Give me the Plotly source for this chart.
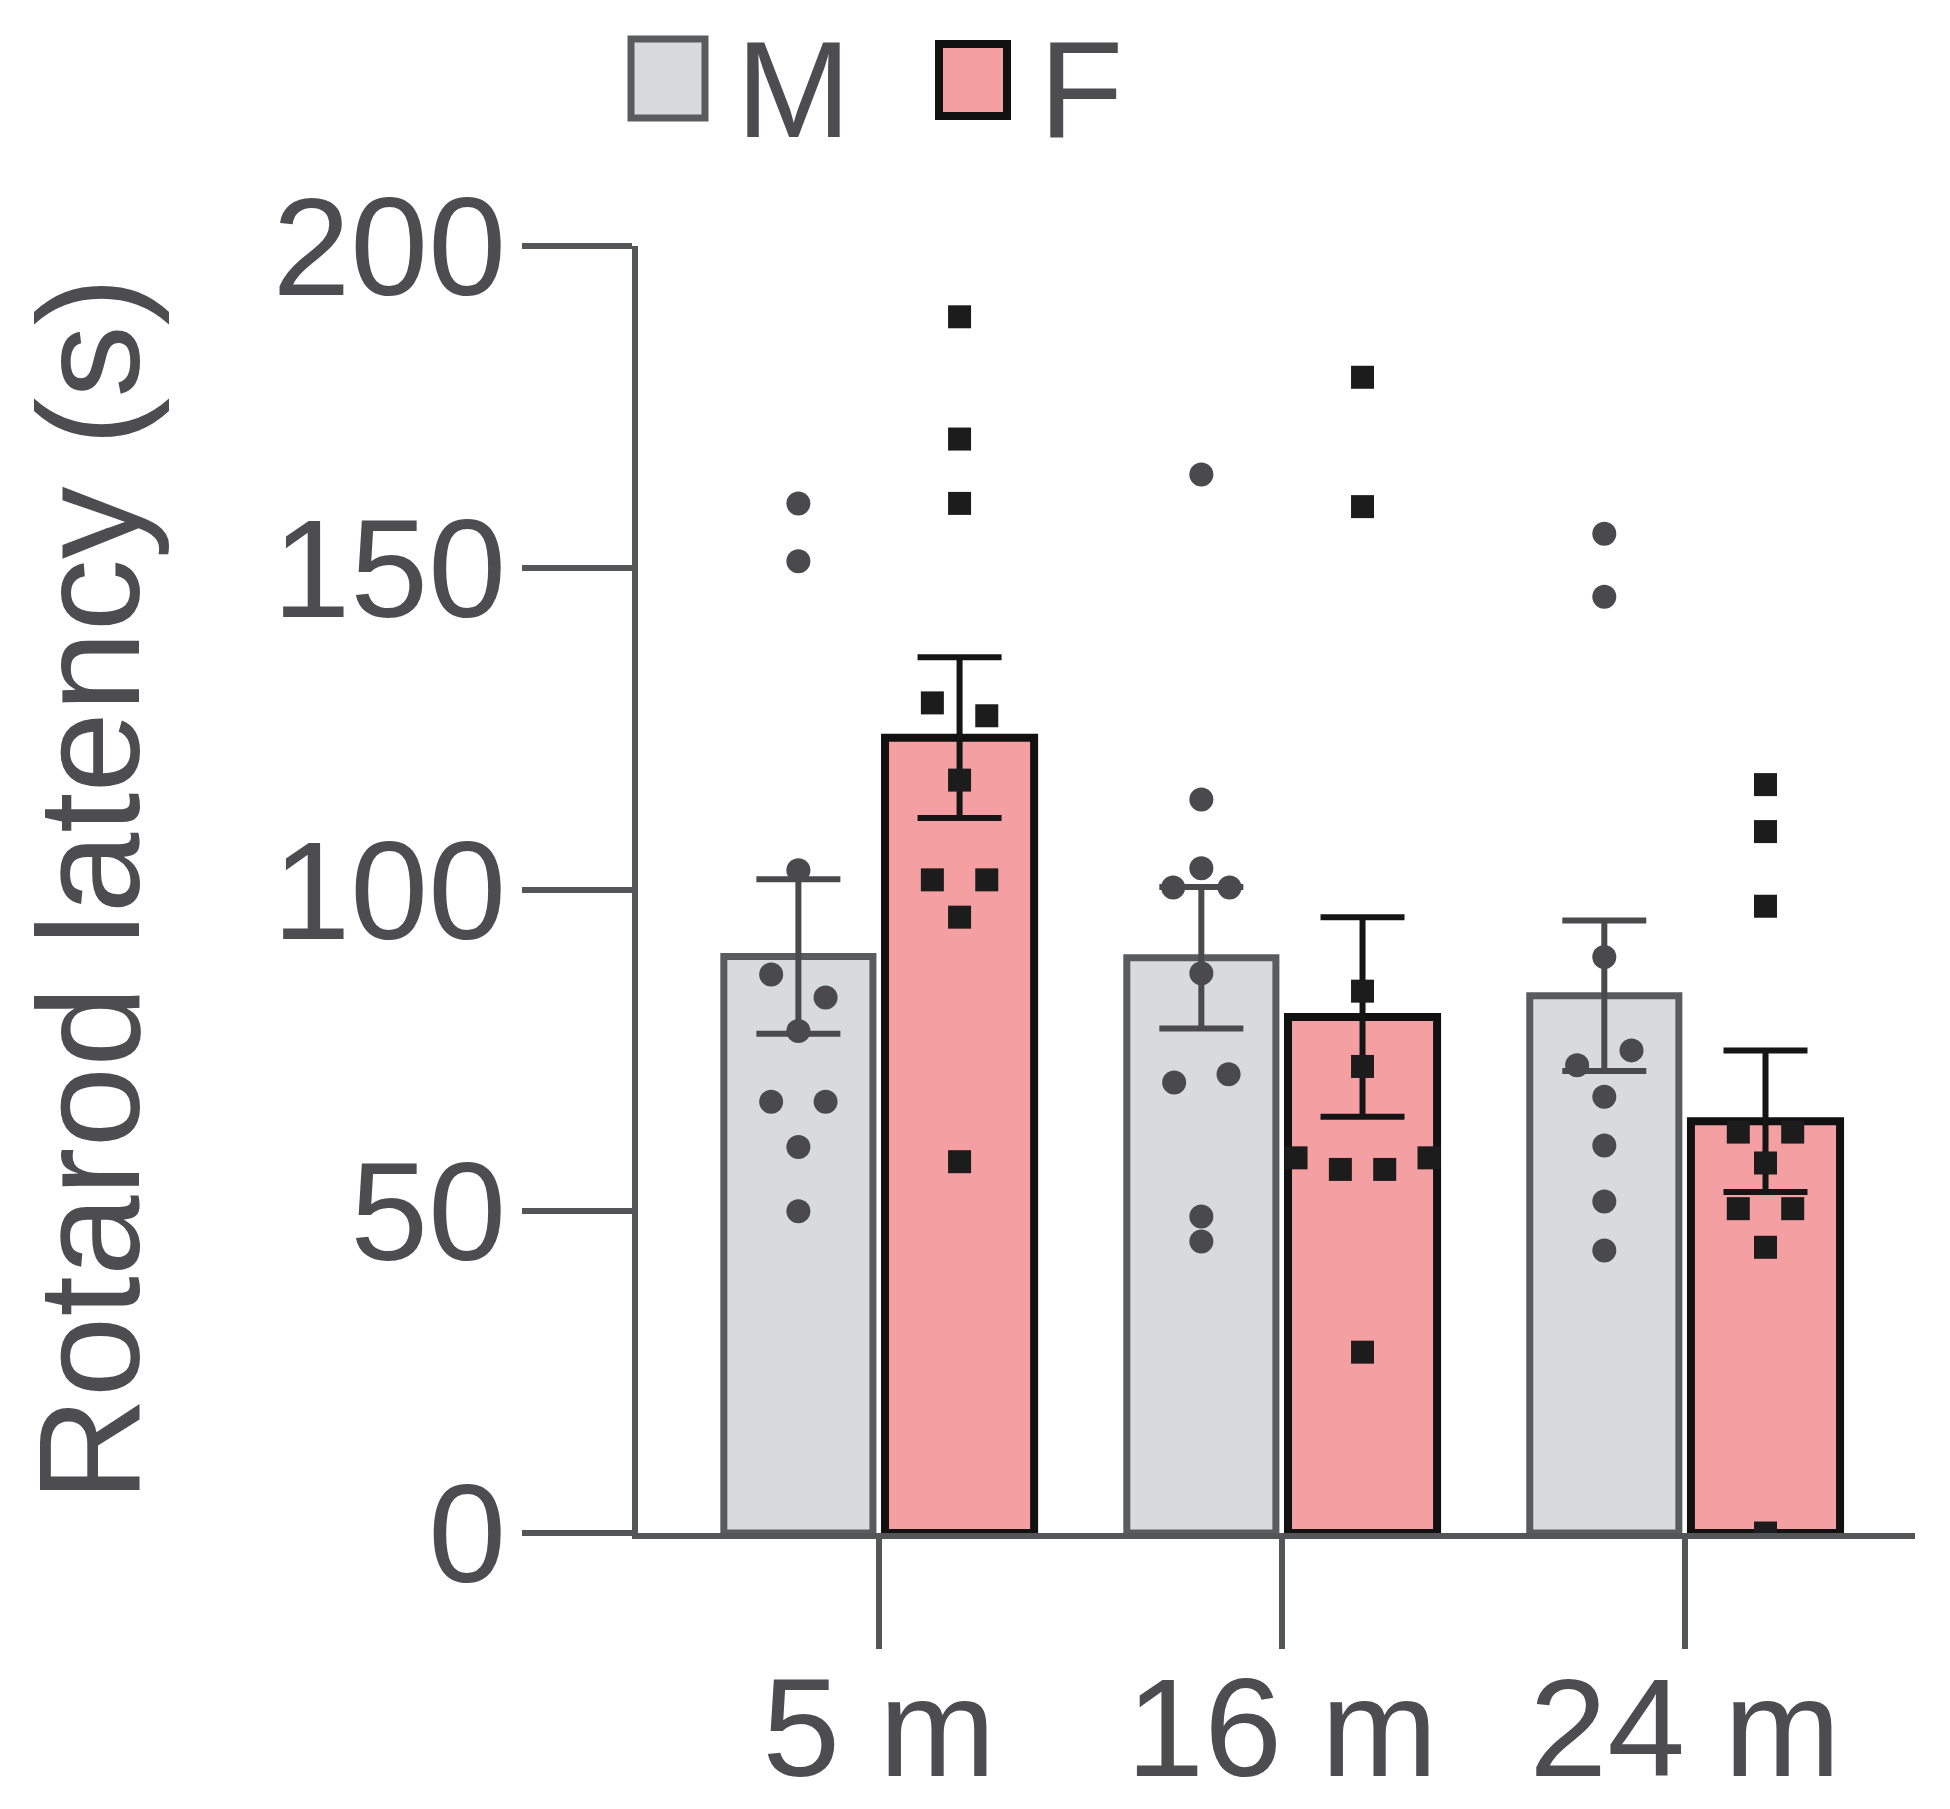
import plotly.graph_objects as go

"""
#  Data read off the figure
"""
ages = ['5 m', '16 m', '24 m']

male_mean = [89.6, 89.4, 83.5]
male_sem = [12.0, 11.0, 11.7]
female_mean = [123.6, 80.2, 64.0]
female_sem = [12.5, 15.5, 11.0]

male_5m = [160, 151, 103, 86.8, 83.2, 78, 67, 67, 60, 50]
male_16m = [164.5, 114, 100.3, 103.3, 100.3, 87, 70, 71.3, 49.2, 45.3]
male_24m = [155.3, 145.5, 89.5, 72.7, 75, 67.8, 60.2, 51.5, 43.9]
female_5m = [189, 170, 160, 129, 127, 117, 101.5, 101.5, 95.7, 57.7]
female_16m = [179.6, 159.5, 84.2, 72.5, 58.3, 56.5, 56.5, 58.3, 28.1]
female_24m = [116.3, 109, 97.4, 62.3, 62.3, 57.5, 50.4, 50.4, 44.4, 0]

male_points = [male_5m, male_16m, male_24m]
female_points = [female_5m, female_16m, female_24m]

"""
#  Style
"""
PAGE = 8          # default body margin of the html page
W, H = 1950 - PAGE, 1809 - PAGE
L, R, T, B = 630, 35, 238, 276
FONT = 'Liberation Sans, Arial, sans-serif'
TXT = '#4d4d4f'
AX = '#545557'
M_FILL, M_LINE, M_DOT = '#d9dadc', '#5a5b5d', '#4a4a4c'
F_FILL, F_LINE, F_DOT = '#f49fa2', '#111111', '#1c1c1c'
SHIFT = 0.2       # bar centre offset from the group tick
BAR_W = 0.37


def px(x):
    # page pixel -> paper fraction
    return (x - PAGE - L) / (W - L - R)


def py(y):
    return (H - B - (y - PAGE)) / (H - T - B)


def spread(values, center, overlap=3.65):
    # simple beeswarm: points that overlap vertically are spread sideways
    order = sorted(range(len(values)), key=lambda i: values[i])
    clusters, cur = [], [order[0]]
    for a, b in zip(order, order[1:]):
        if values[b] - values[a] < overlap:
            cur.append(b)
        else:
            clusters.append(cur)
            cur = [b]
    clusters.append(cur)
    xs = [center] * len(values)
    for c in clusters:
        n = len(c)
        if n == 1:
            continue
        step = {2: 0.135, 3: 0.07}.get(n, 0.11)
        for k, i in enumerate(sorted(c)):
            xs[i] = center + (k - (n - 1) / 2) * step
    return xs


groups = list(range(len(ages)))
male_x = [g - SHIFT for g in groups]
female_x = [g + SHIFT for g in groups]

fig = go.Figure()

fig.add_trace(go.Bar(
    x=male_x, y=male_mean, width=BAR_W, name='M',
    marker=dict(color=M_FILL, line=dict(color=M_LINE, width=7)),
    error_y=dict(type='data', array=male_sem, color='#4a4a4c', thickness=6, width=42),
))
fig.add_trace(go.Bar(
    x=female_x, y=female_mean, width=BAR_W, name='F',
    marker=dict(color=F_FILL, line=dict(color=F_LINE, width=8)),
    error_y=dict(type='data', array=female_sem, color='#151515', thickness=6, width=42),
))

for g in groups:
    fig.add_trace(go.Scatter(
        x=spread(male_points[g], male_x[g]), y=male_points[g], mode='markers',
        marker=dict(symbol='circle', size=24, color=M_DOT), showlegend=False,
    ))
    fig.add_trace(go.Scatter(
        x=spread(female_points[g], female_x[g]), y=female_points[g], mode='markers',
        marker=dict(symbol='square', size=23, color=F_DOT), showlegend=False,
    ))

# legend drawn by hand (plotly caps legend symbol size)
shapes = [
    dict(type='rect', xref='paper', yref='paper', x0=px(631), x1=px(705), y0=py(118), y1=py(39),
         fillcolor=M_FILL, line=dict(color=M_LINE, width=7)),
    dict(type='rect', xref='paper', yref='paper', x0=px(939), x1=px(1007), y0=py(116), y1=py(44),
         fillcolor=F_FILL, line=dict(color=F_LINE, width=8)),
]
annotations = [
    dict(text='M', xref='paper', yref='paper', x=px(734), y=py(10), xanchor='left', yanchor='top',
         showarrow=False, font=dict(family=FONT, size=138, color=TXT)),
    dict(text='F', xref='paper', yref='paper', x=px(1037), y=py(10), xanchor='left', yanchor='top',
         showarrow=False, font=dict(family=FONT, size=138, color=TXT)),
]

fig.update_layout(
    width=W, height=H,
    margin=dict(l=L, r=R, t=T, b=B, autoexpand=False),
    barmode='overlay',
    showlegend=False,
    plot_bgcolor='white', paper_bgcolor='white',
    font=dict(family=FONT, color=TXT),
    shapes=shapes, annotations=annotations,
)
fig.update_xaxes(
    range=[-0.598, 2.571], tickvals=groups, ticktext=ages,
    showline=True, linecolor=AX, linewidth=6,
    ticks='outside', ticklen=110, tickwidth=6, tickcolor=AX,
    tickfont=dict(size=140, color=TXT), ticklabelstandoff=-41,
    showgrid=False, zeroline=False,
)
fig.update_yaxes(
    range=[0, 200], tickvals=[0, 50, 100, 150, 200],
    showline=True, linecolor=AX, linewidth=6,
    ticks='outside', ticklen=110, tickwidth=6, tickcolor=AX,
    tickfont=dict(size=140, color=TXT), ticklabelstandoff=-12,
    title=dict(text='Rotarod latency (s)', font=dict(size=145, color=TXT), standoff=128),
    showgrid=False, zeroline=False,
)

fig.write_html("out.html")
